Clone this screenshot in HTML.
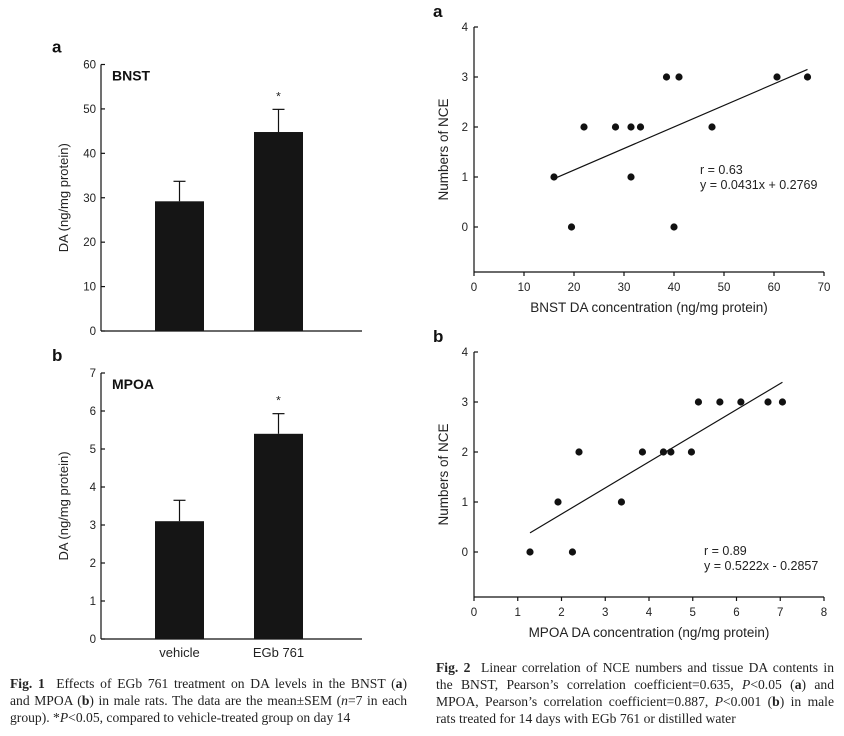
<!DOCTYPE html>
<html><head><meta charset="utf-8"><style>
body{margin:0;background:#fff;width:844px;height:736px;overflow:hidden;font-family:"Liberation Sans",sans-serif}
svg{position:absolute;left:0;top:0}
.cap{position:absolute;font-family:"Liberation Serif",serif;font-size:13.6px;line-height:17px;color:#222}
.cap div{text-align:justify;text-align-last:justify;white-space:nowrap}
.cap div.last{text-align-last:left}
</style></head><body>
<svg id="s" width="844" height="736"></svg>
<div class="cap" style="left:10px;top:675px;width:397px">
<div><b>Fig. 1</b>&nbsp; Effects of EGb 761 treatment on DA levels in the BNST (<b>a</b>)</div>
<div>and MPOA (<b>b</b>) in male rats. The data are the mean±SEM (<i>n</i>=7 in each</div>
<div class="last">group). *<i>P</i>&lt;0.05, compared to vehicle-treated group on day 14</div>
</div>
<div class="cap" style="left:436px;top:659px;width:398px">
<div><b>Fig. 2</b>&nbsp; Linear correlation of NCE numbers and tissue DA contents in</div>
<div>the BNST, Pearson’s correlation coefficient=0.635, <i>P</i>&lt;0.05 (<b>a</b>) and</div>
<div>MPOA, Pearson’s correlation coefficient=0.887, <i>P</i>&lt;0.001 (<b>b</b>) in male</div>
<div class="last">rats treated for 14 days with EGb 761 or distilled water</div>
</div>
<script>
const barCats=["vehicle","EGb 761"];
const bnstMeans=[29.2,44.8];
const bnstErr=[4.5,5.1];
const mpoaMeans=[3.1,5.4];
const mpoaErr=[0.55,0.53];
const bnstTicks=[0,10,20,30,40,50,60];
const mpoaTicks=[0,1,2,3,4,5,6,7];
const scatAX=[16,19.5,22,28.3,31.4,33.3,31.4,38.5,41,40,47.6,60.6,66.7];
const scatAY=[1,0,2,2,2,2,1,3,3,0,2,3,3];
const scatBX=[1.28,1.92,2.25,2.4,3.37,3.85,4.33,4.5,4.97,5.13,5.62,6.1,6.72,7.05];
const scatBY=[0,1,0,2,1,2,2,2,2,3,3,3,3,3];
const fitA=[0.0431,0.2769], fitB=[0.5222,-0.2857];
const ticksAX=[0,10,20,30,40,50,60,70], ticksBX=[0,1,2,3,4,5,6,7,8], ticksY=[0,1,2,3,4];
const NS="http://www.w3.org/2000/svg", S=document.getElementById('s');
function el(t,a,txt){const e=document.createElementNS(NS,t);for(const k in a)e.setAttribute(k,a[k]);if(txt!=null)e.textContent=txt;S.appendChild(e);return e;}
function line(x1,y1,x2,y2,n){const e=el('line',{x1,y1,x2,y2,stroke:'#111','stroke-width':1.2});

return e;}
function text(x,y,s,n,extra){const a=Object.assign({x,y,'font-size':11.5,fill:'#222'},extra||{});const e=el('text',a,s);

return e;}

function barChart(y0,ymax,ticks,means,errs,letter,title,ltop,showCats,id){
  const top=ltop, bot=y0, x0=101, x1=362;
  const Y=v=>bot-(v/ymax)*(bot-top);
  line(x0,top,x0,bot,id+'-y-axis');line(x0,bot,x1,bot,id+'-x-axis');
  ticks.forEach(t=>{line(x0,Y(t),x0+4,Y(t),id+'-y-tick');text(x0-5,Y(t)+4,String(t),id+'-y-tick-label',{'text-anchor':'end'});});
  const cx=[179.5,278.5];
  means.forEach((m,i)=>{
    const r=el('rect',{x:cx[i]-24.5,y:Y(m),width:49,height:bot-Y(m),fill:'#151515'});
    
    
    line(cx[i],Y(m),cx[i],Y(m+errs[i]),id+'-error-bar');
    line(cx[i]-6,Y(m+errs[i]),cx[i]+6,Y(m+errs[i]),id+'-error-cap');
    if(showCats)text(cx[i],657,barCats[i],'category-label',{'text-anchor':'middle','font-size':13});
  });
  text(cx[1],Y(means[1]+errs[1])-9,'*',id+'-significance-star',{'text-anchor':'middle','font-size':12});
  text(52,top-12,letter,id+'-panel-letter',{'font-size':17,'font-weight':'bold',fill:'#111'});
  text(112,top+16,title,id+'-panel-title',{'font-size':14,'font-weight':'bold',fill:'#111'});
  text(0,0,'DA (ng/mg protein)',id+'-y-axis-title',{'font-size':13,'text-anchor':'middle',transform:`translate(68,${(top+bot)/2}) rotate(-90)`});
}
barChart(331,60,bnstTicks,bnstMeans,bnstErr,'a','BNST',64.5,false,'bnst');
barChart(639,7,mpoaTicks,mpoaMeans,mpoaErr,'b','MPOA',373,true,'mpoa');

function scatter(xs,ys,xmax,xticks,fit,top4,axisBot,letter,xtitle,r,eq,id){
  const x0=474,x1=824, X=v=>x0+v/xmax*(x1-x0), Y=v=>top4+(4-v)*50;
  line(x0,top4,x0,axisBot,id+'-y-axis');line(x0,axisBot,x1,axisBot,id+'-x-axis');
  ticksY.forEach(t=>{line(x0,Y(t),x0+4,Y(t),id+'-y-tick');text(x0-6,Y(t)+4,String(t),id+'-y-tick-label',{'text-anchor':'end'});});
  xticks.forEach(t=>{line(X(t),axisBot,X(t),axisBot+4,id+'-x-tick');text(X(t),axisBot+19,String(t),id+'-x-tick-label',{'text-anchor':'middle'});});
  const mn=Math.min(...xs),mx=Math.max(...xs);
  line(X(mn),Y(fit[0]*mn+fit[1]),X(mx),Y(fit[0]*mx+fit[1]),id+'-regression-line');
  xs.forEach((v,i)=>{const c=el('circle',{cx:X(v),cy:Y(ys[i]),r:3.6,fill:'#111'});
    
    });
  text(433,top4-10,letter,id+'-panel-letter',{'font-size':17,'font-weight':'bold',fill:'#111'});
  text(649,axisBot+40,xtitle,id+'-x-axis-title',{'font-size':13.5,'text-anchor':'middle'});
  text(0,0,'Numbers of NCE',id+'-y-axis-title',{'font-size':13.5,'text-anchor':'middle',transform:`translate(448,${(top4+axisBot)/2}) rotate(-90)`});
  text(r[0],r[1],r[2],id+'-r-value',{'font-size':12.5});
  text(r[0],r[1]+15,eq,id+'-equation',{'font-size':12.5});
}
scatter(scatAX,scatAY,70,ticksAX,fitA,27,272,'a','BNST DA concentration (ng/mg protein)',[700,174,'r = 0.63'],'y = 0.0431x + 0.2769','corr-a');
scatter(scatBX,scatBY,8,ticksBX,fitB,352,597,'b','MPOA DA concentration (ng/mg protein)',[704,555,'r = 0.89'],'y = 0.5222x - 0.2857','corr-b');
</script>
</body></html>
